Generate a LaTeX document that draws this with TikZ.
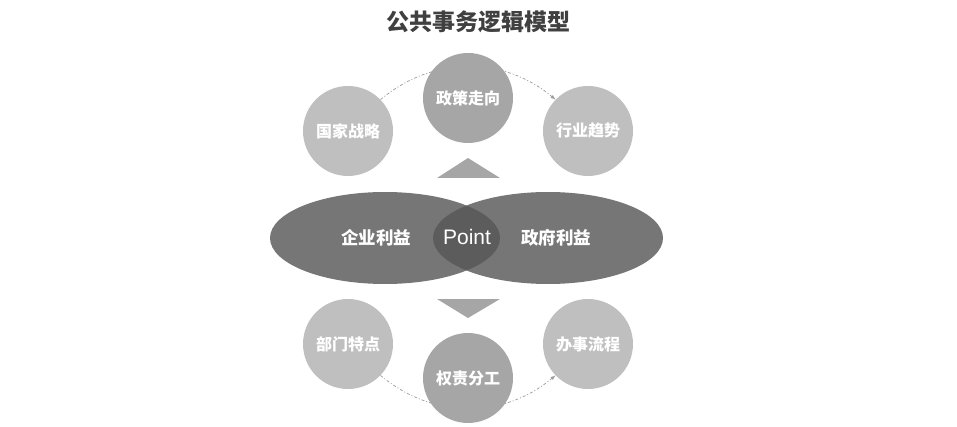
\documentclass[tikz,border=0pt]{standalone}
\usepackage{fontspec}
\setmainfont{Noto Sans CJK SC}
\newfontfamily\pointfont{Liberation Sans}
\usepackage{tikz}
\usetikzlibrary{arrows,positioning,calc,shapes.geometric,backgrounds}

\definecolor{titlegray}{HTML}{404040}
\definecolor{sidegray}{HTML}{BFBFBF}
\definecolor{midgray}{HTML}{A6A6A6}
\definecolor{ellgray}{HTML}{565656}
\definecolor{arcgray}{HTML}{9A9A9A}

\tikzset{
  sidecircle/.style={circle,fill=sidegray,minimum size=90pt,inner sep=0pt,text=white,font=\bfseries\fontsize{16}{16}\selectfont},
  midcircle/.style={circle,fill=midgray,minimum size=90pt,inner sep=0pt,text=white,font=\bfseries\fontsize{16}{16}\selectfont},
  interest/.style={ellipse,fill=ellgray,fill opacity=.81,minimum width=230pt,minimum height=92pt,inner sep=0pt},
  interesttext/.style={text=white,font=\bfseries\fontsize{17.5}{17.5}\selectfont},
  flowarc/.style={arcgray,line width=.7pt,dash pattern=on 3pt off 2pt on 1pt off 2pt,-latex},
}

\begin{document}
\begin{tikzpicture}[x=1pt,y=-1pt]
\useasboundingbox (0,0) rectangle (957,427);

\node[text=titlegray,font=\bfseries\fontsize{23}{23}\selectfont] (title) at (478,22) {公共事务逻辑模型};

% upper row
\node[sidecircle] (gj) at (348,131) {国家战略};
\node[midcircle]  (zc) at (468,98)  {政策走向};
\node[sidecircle] (hy) at (588,131) {行业趋势};

% lower row
\node[sidecircle] (bm) at (348,344) {部门特点};
\node[midcircle]  (qz) at (468,378) {权责分工};
\node[sidecircle] (bs) at (588,344) {办事流程};

% two interests
\node[interest] (qy) at (385,238) {};
\node[interest] (zf) at (548,238) {};
\node[interesttext] (qyt) at (376,238) {企业利益};
\node[interesttext] (zft) at (556,238) {政府利益};
\node[text=white,font=\pointfont\fontsize{21}{21}\selectfont] (pt) at (467,237) {Point};

% triangles
\fill[midgray] (437,178) -- (468,158) -- (500,178) -- cycle;
\fill[midgray] (437,299) -- (468,318) -- (500,299) -- cycle;

\begin{scope}[on background layer]
\draw[flowarc] (gj.44) to[bend left=40] (hy.136);
\draw[flowarc] (bm.-44) to[bend right=40] (bs.-136);
\end{scope}
\end{tikzpicture}
\end{document}
